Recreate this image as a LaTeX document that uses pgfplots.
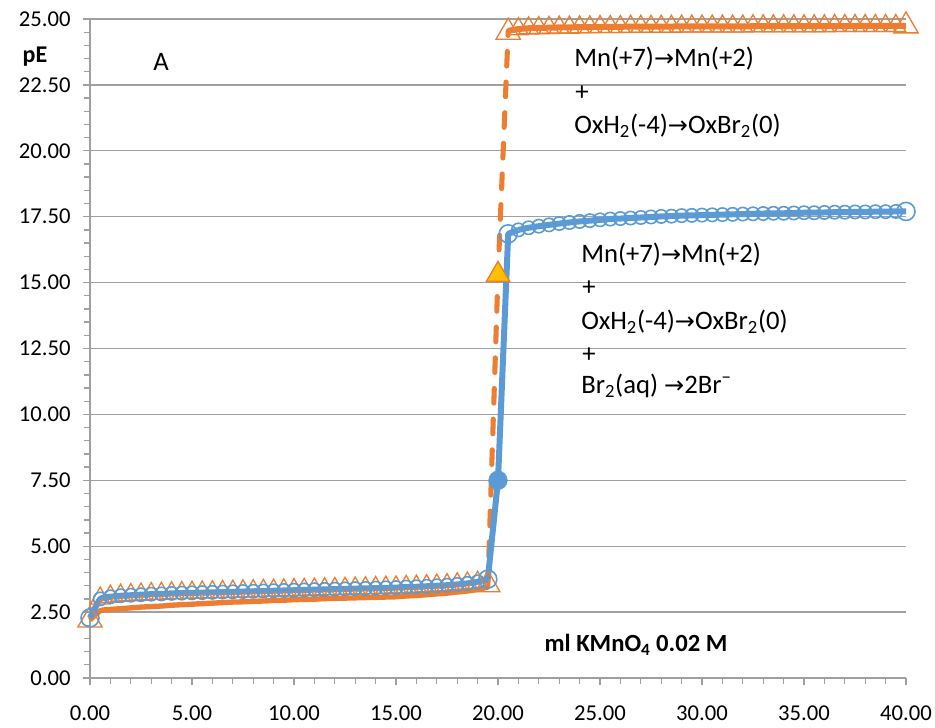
\documentclass[border=0pt]{standalone}
\usepackage{pgfplots}
\pgfplotsset{compat=1.18}
\usepackage{fontspec}
\setmainfont{Carlito}
\newfontfamily\symfont{DejaVu Sans}
\definecolor{exBlue}{HTML}{5B9BD5}
\definecolor{exOrange}{HTML}{ED7D31}
\definecolor{exGold}{HTML}{FFC000}
\definecolor{gridgray}{HTML}{A0A0A0}
\newcommand{\arr}{{\symfont\fontsize{18}{20}\selectfont →}}
\newcommand{\lbl}{\fontsize{17}{21}\selectfont}
\newcommand{\note}{\fontsize{20}{24}\selectfont}

\begin{document}
\begin{tikzpicture}[x=0.75pt,y=0.75pt]
\useasboundingbox (-90,-50) rectangle (845,678);
\begin{axis}[
  at={(0,0)}, anchor=south west, scale only axis,
  width=612pt, height=494.25pt,
  xmin=0, xmax=40, ymin=0, ymax=25,
  axis lines=left,
  axis line style={-, draw=gridgray, line width=1.2pt},
  ymajorgrids,
  major grid style={draw=gridgray, line width=1pt},
  xtick={0,5,10,15,20,25,30,35,40},
  ytick={0,2.5,5,7.5,10,12.5,15,17.5,20,22.5,25},
  minor x tick num=4, minor y tick num=4,
  tick align=outside,
  major tick length=5.5pt, minor tick length=4.5pt,
  tick style={draw=gridgray, line width=1pt},
  every tick label/.append style={font=\lbl, text=black},
  /pgf/number format/assume math mode=true,
  xticklabel style={yshift=-12pt, /pgf/number format/.cd, fixed, fixed zerofill, precision=2},
  yticklabel style={xshift=-5.5pt, /pgf/number format/.cd, fixed, fixed zerofill, precision=2},
  clip=false,
]

% MnO4- titration, oxalate only: solid line before and after, dashed across the jump
\addplot[exOrange, line width=4pt, line join=round, smooth, tension=0.4] coordinates {
(0,2.20) (0.5,2.55) (1,2.60) (1.5,2.63) (2,2.66) (2.5,2.69) (3,2.71) (3.5,2.73)
(4,2.76) (4.5,2.78) (5,2.80) (5.5,2.82) (6,2.84) (6.5,2.86) (7,2.88) (7.5,2.89)
(8,2.91) (8.5,2.92) (9,2.94) (9.5,2.95) (10,2.97) (10.5,2.98) (11,2.99) (11.5,3.01)
(12,3.02) (12.5,3.03) (13,3.04) (13.5,3.05) (14,3.06) (14.5,3.07) (15,3.08) (15.5,3.11)
(16,3.13) (16.5,3.16) (17,3.19) (17.5,3.22) (18,3.26) (18.5,3.30) (19,3.36) (19.5,3.45)
};
\addplot[exOrange, line width=3.8pt, line cap=round, dash pattern=on 11pt off 12pt] coordinates {
(19.5,3.45) (20,15.3) (20.5,24.55)
};
\addplot[exOrange, line width=4.5pt, line join=round] coordinates {
(20.5,24.55) (21,24.62) (21.5,24.65) (22,24.66) (23,24.68) (24,24.69) (25,24.70)
(27,24.71) (30,24.72) (35,24.73) (40,24.74)
};
% triangle markers of the same series
\addplot[only marks, mark=triangle, mark size=8.5pt, exOrange, mark options={line width=1pt}] coordinates {
(0.5,3.02) (1,3.09) (1.5,3.13) (2,3.15) (2.5,3.17) (3,3.19) (3.5,3.20)
(4,3.22) (4.5,3.23) (5,3.24) (5.5,3.25) (6,3.26) (6.5,3.27) (7,3.28) (7.5,3.29)
(8,3.30) (8.5,3.31) (9,3.32) (9.5,3.33) (10,3.34) (10.5,3.35) (11,3.36) (11.5,3.37)
(12,3.38) (12.5,3.39) (13,3.40) (13.5,3.41) (14,3.42) (14.5,3.43) (15,3.44) (15.5,3.46)
(16,3.47) (16.5,3.49) (17,3.51) (17.5,3.53) (18,3.56) (18.5,3.59) (19,3.62)
(21,24.62) (21.5,24.65) (22,24.66) (22.5,24.67) (23,24.68) (23.5,24.68) (24,24.69)
(24.5,24.69) (25,24.70) (25.5,24.70) (26,24.70) (26.5,24.71) (27,24.71) (27.5,24.71)
(28,24.71) (28.5,24.71) (29,24.72) (29.5,24.72) (30,24.72) (30.5,24.72) (31,24.72)
(31.5,24.72) (32,24.72) (32.5,24.73) (33,24.73) (33.5,24.73) (34,24.73) (34.5,24.73)
(35,24.73) (35.5,24.73) (36,24.73) (36.5,24.74) (37,24.74) (37.5,24.74) (38,24.74)
(38.5,24.74) (39,24.74) (39.5,24.74)
};
\addplot[only marks, mark=triangle, mark size=10.5pt, exOrange, mark options={line width=1pt}] coordinates {
(0,2.20) (19.5,3.54) (20.5,24.50) (40,24.74)
};
\addplot[only marks, mark=triangle*, mark size=10pt, mark options={fill=exGold, draw=exOrange, line width=1pt}] coordinates {
(20,15.3)
};

% MnO4- titration, oxalate and bromine
\addplot[only marks, mark=o, mark size=5pt, exBlue, mark options={line width=1.2pt}] coordinates {
(0.5,3.00) (1,3.08) (1.5,3.12) (2,3.14) (2.5,3.16) (3,3.18) (3.5,3.19)
(4,3.21) (4.5,3.22) (5,3.23) (5.5,3.24) (6,3.25) (6.5,3.26) (7,3.27) (7.5,3.28)
(8,3.29) (8.5,3.30) (9,3.31) (9.5,3.32) (10,3.33) (10.5,3.34) (11,3.35) (11.5,3.36)
(12,3.37) (12.5,3.38) (13,3.39) (13.5,3.40) (14,3.41) (14.5,3.42) (15,3.43) (15.5,3.45)
(16,3.46) (16.5,3.48) (17,3.50) (17.5,3.52) (18,3.55) (18.5,3.59) (19,3.65)
(21,17.00) (21.5,17.08) (22,17.14) (22.5,17.19) (23,17.24) (23.5,17.28) (24,17.32)
(24.5,17.35) (25,17.38) (25.5,17.41) (26,17.43) (26.5,17.45) (27,17.47) (27.5,17.49)
(28,17.51) (28.5,17.52) (29,17.54) (29.5,17.55) (30,17.56) (30.5,17.57) (31,17.58)
(31.5,17.59) (32,17.60) (32.5,17.61) (33,17.62) (33.5,17.63) (34,17.63) (34.5,17.64)
(35,17.65) (35.5,17.65) (36,17.66) (36.5,17.67) (37,17.67) (37.5,17.68) (38,17.68)
(38.5,17.69) (39,17.69) (39.5,17.70)
};
\addplot[only marks, mark=o, mark size=6.75pt, exBlue, mark options={line width=1.2pt}] coordinates {
(0,2.28) (19.5,3.75) (20.5,16.85) (40,17.70)
};
\addplot[exBlue, line width=4.5pt, line join=round, smooth, tension=0.3] coordinates {
(0,2.28) (0.5,3.00) (1,3.08) (1.5,3.12) (2,3.14) (2.5,3.16) (3,3.18) (3.5,3.19)
(4,3.21) (4.5,3.22) (5,3.23) (5.5,3.24) (6,3.25) (6.5,3.26) (7,3.27) (7.5,3.28)
(8,3.29) (8.5,3.30) (9,3.31) (9.5,3.32) (10,3.33) (10.5,3.34) (11,3.35) (11.5,3.36)
(12,3.37) (12.5,3.38) (13,3.39) (13.5,3.40) (14,3.41) (14.5,3.42) (15,3.43) (15.5,3.45)
(16,3.46) (16.5,3.48) (17,3.50) (17.5,3.52) (18,3.55) (18.5,3.59) (19,3.65) (19.5,3.75)
};
\addplot[exBlue, line width=4.5pt, line join=round] coordinates {
(19.5,3.75) (20,7.50) (20.5,16.85) (21,17.00)
};
\addplot[exBlue, line width=4.5pt, line join=round, smooth, tension=0.3] coordinates {
(21,17.00) (21.5,17.08) (22,17.14) (22.5,17.19) (23,17.24) (23.5,17.28) (24,17.32)
(24.5,17.35) (25,17.38) (25.5,17.41) (26,17.43) (26.5,17.45) (27,17.47) (27.5,17.49)
(28,17.51) (28.5,17.52) (29,17.54) (29.5,17.55) (30,17.56) (30.5,17.57) (31,17.58)
(31.5,17.59) (32,17.60) (32.5,17.61) (33,17.62) (33.5,17.63) (34,17.63) (34.5,17.64)
(35,17.65) (35.5,17.65) (36,17.66) (36.5,17.67) (37,17.67) (37.5,17.68) (38,17.68)
(38.5,17.69) (39,17.69) (39.5,17.70) (40,17.70)
};
\addplot[only marks, mark=*, mark size=7pt, exBlue] coordinates {(20,7.50)};
\end{axis}

% labels and reaction notes
\node[font=\bfseries\fontsize{18}{21}\selectfont] at (-55,621) {pE};
\node[font=\note] at (71,616) {A};
\begin{scope}[every node/.style={anchor=west, inner sep=0pt, font=\note}]
  \node at (484,619) {Mn(+7)\arr Mn(+2)};
  \node at (485,585) {+};
  \node at (484,552) {OxH\textsubscript{2}(-4)\arr OxBr\textsubscript{2}(0)};
  \node at (491,423) {Mn(+7)\arr Mn(+2)};
  \node at (492,390) {+};
  \node at (491,356) {OxH\textsubscript{2}(-4)\arr OxBr\textsubscript{2}(0)};
  \node at (492,323) {+};
  \node at (491,292) {Br\textsubscript{2}(aq) \arr 2Br\textsuperscript{−}};
\end{scope}
\node[font=\bfseries\fontsize{18.5}{22}\selectfont] at (546,33) {ml KMnO\textsubscript{4} 0.02 M};
\end{tikzpicture}
\end{document}
